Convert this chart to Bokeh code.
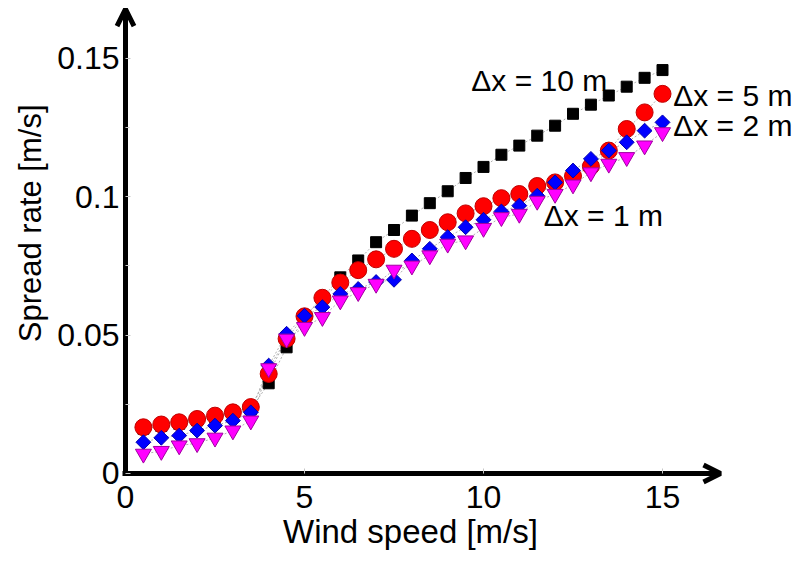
import numpy as np
from bokeh.plotting import figure
from bokeh.models import Range1d, FixedTicker, NumeralTickFormatter, Label, Arrow, OpenHead
from bokeh.embed import file_html
from bokeh.resources import INLINE

# ---- data ----
wind_speed = [0.5, 1.0, 1.5, 2.0, 2.5, 3.0, 3.5, 4.0, 4.5, 5.0,
              5.5, 6.0, 6.5, 7.0, 7.5, 8.0, 8.5, 9.0, 9.5, 10.0,
              10.5, 11.0, 11.5, 12.0, 12.5, 13.0, 13.5, 14.0, 14.5, 15.0]
rate_dx10 = [0.0162, 0.0172, 0.0180, 0.0192, 0.0204, 0.0216, 0.0232, 0.0326, 0.0456, 0.0565,
             0.0635, 0.0709, 0.0770, 0.0836, 0.0880, 0.0932, 0.0977, 0.1020, 0.1068, 0.1108,
             0.1152, 0.1185, 0.1221, 0.1257, 0.1300, 0.1333, 0.1366, 0.1398, 0.1430, 0.1458]
rate_dx5 = [0.0167, 0.0177, 0.0185, 0.0197, 0.0209, 0.0221, 0.0240, 0.0360, 0.0487, 0.0568,
            0.0635, 0.0690, 0.0735, 0.0774, 0.0812, 0.0848, 0.0880, 0.0908, 0.0940, 0.0966,
            0.0995, 0.1010, 0.1039, 0.1052, 0.1075, 0.1110, 0.1167, 0.1245, 0.1305, 0.1372]
rate_dx2 = [0.0113, 0.0129, 0.0137, 0.0155, 0.0173, 0.0191, 0.0221, 0.0390, 0.0505, 0.0570,
            0.0601, 0.0649, 0.0667, 0.0692, 0.0700, 0.0770, 0.0812, 0.0854, 0.0890, 0.0917,
            0.0947, 0.0968, 0.1004, 0.1052, 0.1095, 0.1137, 0.1167, 0.1197, 0.1239, 0.1269]
rate_dx1 = [0.0071, 0.0081, 0.0101, 0.0109, 0.0129, 0.0155, 0.0191, 0.0380, 0.0487, 0.0529,
            0.0565, 0.0625, 0.0655, 0.0685, 0.0736, 0.0751, 0.0788, 0.0830, 0.0842, 0.0887,
            0.0926, 0.0938, 0.0985, 0.1010, 0.1044, 0.1088, 0.1119, 0.1143, 0.1185, 0.1233]

x_ticks = [0, 5, 10, 15]
y_ticks = [0, 0.05, 0.1, 0.15]
y_minor = [0.025, 0.075, 0.125]
series_labels = ["\u0394x = 10 m", "\u0394x = 5 m", "\u0394x = 2 m", "\u0394x = 1 m"]

FONT = "Liberation Sans"
X_END = 16.62     # end of the x-axis arrow
Y_END = 0.1678    # end of the y-axis arrow

p = figure(frame_width=792, frame_height=555,
           min_border_left=0, min_border_right=0, min_border_top=0, min_border_bottom=0,
           x_range=Range1d(-3.4916, 18.631), y_range=Range1d(-0.029635, 0.170943),
           output_backend="svg", toolbar_location=None, background_fill_color="white",
           border_fill_color="white", outline_line_color=None)
p.grid.visible = False

# faint dotted connecting lines
for ys in [rate_dx10, rate_dx5, rate_dx2, rate_dx1]:
    p.line(wind_speed, ys, line_color="#b0b0b0", line_width=1, line_dash="2 2")

p.scatter(wind_speed, rate_dx10, marker="square", size=11,
          fill_color="black", line_color="black")
p.scatter(wind_speed, rate_dx5, marker="circle", size=17,
          fill_color="#ff0000", line_color="#c00000", line_width=1)
p.scatter(wind_speed, rate_dx2, marker="square", size=10.5, angle=np.pi / 4,
          fill_color="#0000ff", line_color="#0000b0", line_width=1)
p.scatter(wind_speed, rate_dx1, marker="inverted_triangle", size=16,
          fill_color="#ff00ff", line_color="#a000a0", line_width=1)

# axes, placed at the data origin inside the frame
for ax in (p.xaxis[0], p.yaxis[0]):
    ax.fixed_location = 0
    ax.axis_line_width = 5
    ax.axis_line_color = "black"
    ax.major_tick_in = 5
    ax.major_tick_out = 0
    ax.major_tick_line_color = "#c8c8c8"
    ax.minor_tick_in = 4
    ax.minor_tick_out = 0
    ax.minor_tick_line_color = "#c8c8c8"
    ax.major_label_text_font = FONT
    ax.major_label_text_font_size = "32px"
    ax.major_label_text_color = "black"

p.xaxis.bounds = (-0.07, X_END - 0.05)
p.yaxis.bounds = (-0.0009, Y_END - 0.0002)
p.xaxis.major_label_standoff = 13
p.yaxis.major_label_standoff = 6
p.xaxis.ticker = FixedTicker(ticks=x_ticks)
p.xaxis.formatter = NumeralTickFormatter(format="0")
p.yaxis.ticker = FixedTicker(ticks=y_ticks, minor_ticks=y_minor)
p.yaxis.formatter = NumeralTickFormatter(format="0.[00]")

# arrow heads at axis ends
p.add_layout(Arrow(x_start=X_END - 0.6, y_start=0, x_end=X_END, y_end=0, line_width=5,
                   end=OpenHead(size=17, line_width=5, line_color="black")))
p.add_layout(Arrow(x_start=0, y_start=Y_END - 0.008, x_end=0, y_end=Y_END, line_width=5,
                   end=OpenHead(size=17, line_width=5, line_color="black")))

# axis titles
p.add_layout(Label(x=7.96, y=-0.0209, text="Wind speed [m/s]", text_align="center",
                   text_baseline="middle", text_font=FONT, text_font_size="33px",
                   text_color="black"))
p.add_layout(Label(x=-2.66, y=0.0904, text="Spread rate [m/s]", angle=np.pi / 2,
                   text_align="center", text_baseline="middle",
                   text_font=FONT, text_font_size="31px", text_color="black"))

# series annotations
ann = [(9.66, 0.1420), (15.30, 0.1366), (15.30, 0.1257), (11.68, 0.0932)]
for (ax_, ay_), txt in zip(ann, series_labels):
    p.add_layout(Label(x=ax_, y=ay_, text=txt, text_align="left", text_baseline="middle",
                       text_font=FONT, text_font_size="30px", text_color="black"))

open("out.html", "w").write(file_html(p, INLINE))
